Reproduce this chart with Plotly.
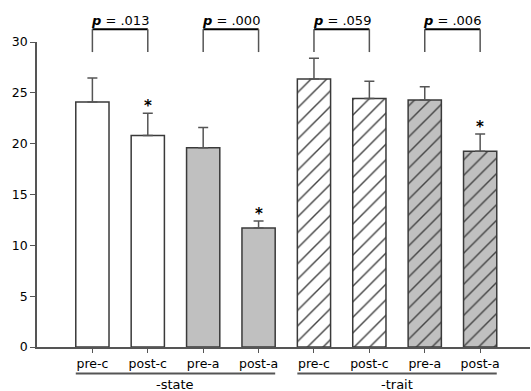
import plotly.graph_objects as go

categories = ["pre-c", "post-c", "pre-a", "post-a", "pre-c", "post-c", "pre-a", "post-a"]
means = [24.1, 20.8, 19.6, 11.7, 26.35, 24.45, 24.3, 19.25]
errors = [2.35, 2.2, 2.0, 0.7, 2.05, 1.7, 1.3, 1.7]
fills = ["white", "white", "#c0c0c0", "#c0c0c0", "white", "white", "#c0c0c0", "#c0c0c0"]
hatched = [False, False, False, False, True, True, True, True]
significant = [False, True, False, True, False, False, False, True]
p_labels = [".013", ".000", ".059", ".006"]
p_pairs = [(1, 2), (3, 4), (5, 6), (7, 8)]
groups = [("-state", 1, 4), ("-trait", 5, 8)]

xs = list(range(1, len(categories) + 1))
FONT = "DejaVu Sans"
AX = "#555555"

fig = go.Figure()
fig.add_trace(go.Bar(
    x=xs, y=means, width=0.6,
    marker=dict(
        color=fills,
        line=dict(color="#3a3a3a", width=1.5),
        pattern=dict(shape=["/" if h else "" for h in hatched],
                     fgcolor="black", fgopacity=1, size=11, solidity=0.13,
                     fillmode="overlay"),
    ),
    error_y=dict(type="data", array=errors, arrayminus=[0] * len(errors),
                 symmetric=False, color=AX, thickness=1.5, width=5),
    showlegend=False,
))

# significance stars
for x, m, e, s in zip(xs, means, errors, significant):
    if s:
        fig.add_annotation(x=x, y=m + e, xref="x", yref="y", text="<b>*</b>",
                           showarrow=False, yanchor="bottom", yshift=-4,
                           font=dict(family=FONT, size=15, color="black"))

# brackets with p values
top = 1.042
leg = 0.967
for (a, b), p in zip(p_pairs, p_labels):
    fig.add_shape(type="line", xref="x", yref="paper", x0=a, x1=b, y0=top, y1=top,
                  line=dict(color="black", width=2))
    for xx in (a, b):
        fig.add_shape(type="line", xref="x", yref="paper", x0=xx, x1=xx, y0=leg, y1=top,
                      line=dict(color=AX, width=1.5))
    fig.add_annotation(x=(a + b) / 2, y=1.071, xref="x", yref="paper",
                       yanchor="middle", xanchor="center",
                       text="<b><i>p</i></b> = " + p, showarrow=False,
                       font=dict(family=FONT, size=13, color="black"))

# group lines and labels
for name, a, b in groups:
    fig.add_shape(type="line", xref="x", yref="paper", x0=a - 0.3, x1=b + 0.3,
                  y0=-0.087, y1=-0.087, line=dict(color=AX, width=2))
    fig.add_annotation(x=(a + b) / 2, y=-0.122, xref="x", yref="paper", text=name,
                       yanchor="middle", xanchor="center",
                       showarrow=False, font=dict(family=FONT, size=13, color="black"))

fig.update_layout(
    width=531, height=391,
    margin=dict(l=37, r=1, t=42, b=44, autoexpand=False),
    plot_bgcolor="white", paper_bgcolor="white",
    bargap=0.4,
    font=dict(family=FONT, size=12.5, color="black"),
    xaxis=dict(range=[0, 8.9], tickvals=xs, ticktext=categories, showline=True,
               linecolor=AX, linewidth=1.5, ticks="outside", ticklen=4,
               tickcolor=AX, showgrid=False, zeroline=False, automargin=False,
               tickfont=dict(family=FONT, size=12.5)),
    yaxis=dict(range=[0, 30], dtick=5, showline=True, linecolor=AX, linewidth=1.5,
               ticks="outside", ticklen=5, tickcolor=AX, showgrid=False,
               zeroline=False, automargin=False, tickfont=dict(family=FONT, size=12.5)),
)

fig.write_html("out.html", config={"displayModeBar": False},
               post_script="document.body.style.margin='0';document.body.style.overflow='hidden';")
